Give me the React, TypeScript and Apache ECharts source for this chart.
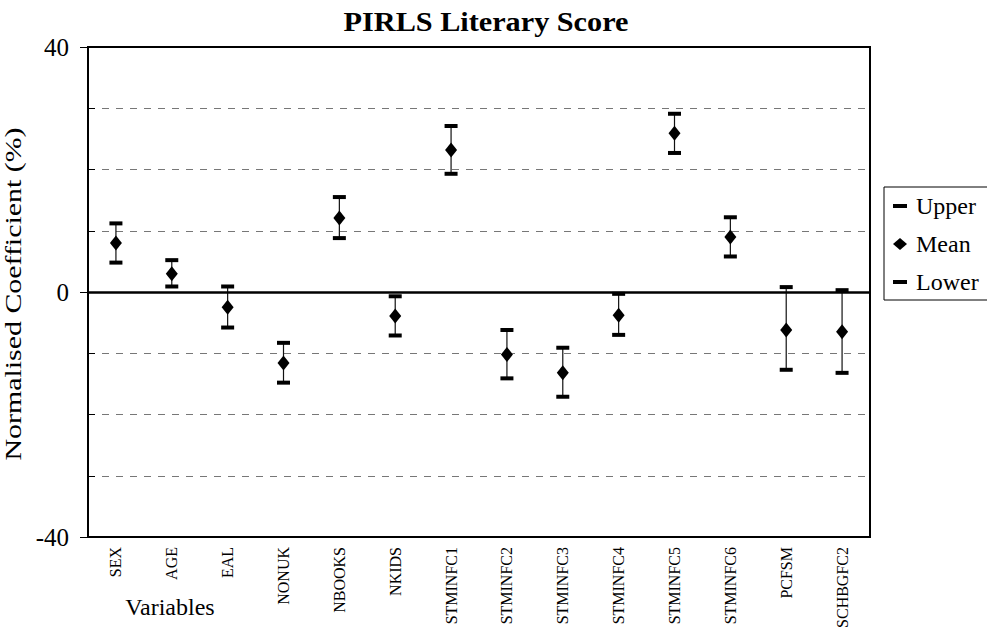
import React, { useEffect, useRef } from "react";
import * as echarts from "echarts";

const categories = ["SEX", "AGE", "EAL", "NONUK", "NBOOKS", "NKIDS", "STMINFC1", "STMINFC2", "STMINFC3", "STMINFC4", "STMINFC5", "STMINFC6", "PCFSM", "SCHBGFC2"];
const upperValues = [11.2, 5.2, 0.9, -8.3, 15.5, -0.7, 27.1, -6.2, -9.1, -0.3, 29.1, 12.2, 0.8, 0.3];
const meanValues = [8.0, 3.0, -2.5, -11.6, 12.1, -3.9, 23.2, -10.2, -13.2, -3.8, 25.9, 9.0, -6.2, -6.5];
const lowerValues = [4.8, 0.9, -5.8, -14.8, 8.8, -7.1, 19.3, -14.1, -17.1, -7.0, 22.7, 5.8, -12.7, -13.2];
const yMin = -40;
const yMax = 40;

const FONT = "'Liberation Serif', 'Times New Roman', serif";
const DASH_ICON = "path://M0,0H14V4H0Z";

export default function App() {
  const ref = useRef<HTMLDivElement>(null);
  useEffect(() => {
    document.body.style.margin = "0";
    document.body.style.overflow = "hidden";
    const chart = echarts.init(ref.current!, null, { renderer: "svg" });
    chart.setOption({
      animation: false,
      backgroundColor: "#ffffff",
      textStyle: { fontFamily: FONT, color: "#000" },
      grid: {
        left: 88,
        right: 117,
        top: 47,
        bottom: 95,
        show: true,
        borderColor: "#000",
        borderWidth: 2,
        backgroundColor: "transparent",
        z: 3,
      },
      legend: {
        orient: "vertical",
        left: 893,
        top: 194,
        itemWidth: 14,
        itemHeight: 12,
        itemGap: 14,
        padding: 0,
        textStyle: { fontFamily: FONT, fontSize: 24, color: "#000", padding: [0, 0, 0, 4] },
        data: [
          { name: "Upper", icon: DASH_ICON },
          { name: "Mean", icon: "diamond" },
          { name: "Lower", icon: DASH_ICON },
        ],
      },
      graphic: [
        {
          type: "rect",
          shape: { x: 884, y: 187, width: 120, height: 113 },
          style: { fill: "none", stroke: "#000", lineWidth: 1 },
          silent: true,
        },
        {
          type: "text",
          x: 486,
          y: 21,
          scaleX: 1.08,
          style: {
            text: "PIRLS Literary Score",
            font: "bold 28px 'Liberation Serif', serif",
            fill: "#000",
            textAlign: "center",
            textVerticalAlign: "middle",
          },
        },
        {
          type: "text",
          x: 13,
          y: 294,
          rotation: Math.PI / 2,
          scaleX: 1.3,
          style: {
            text: "Normalised Coefficient (%)",
            font: "23px 'Liberation Serif', serif",
            fill: "#000",
            textAlign: "center",
            textVerticalAlign: "middle",
          },
        },
        {
          type: "text",
          x: 170,
          y: 607,
          style: {
            text: "Variables",
            font: "24px 'Liberation Serif', serif",
            fill: "#000",
            textAlign: "center",
            textVerticalAlign: "middle",
          },
        },
      ],
      xAxis: {
        type: "category",
        data: categories,
        boundaryGap: true,
        axisLine: { show: false, onZero: false },
        axisTick: { show: false },
        splitLine: { show: false },
        axisLabel: {
          rotate: 90,
          interval: 0,
          margin: 10,
          fontFamily: FONT,
          fontSize: 16,
          color: "#000",
        },
      },
      yAxis: [
        {
          type: "value",
          min: yMin,
          max: yMax,
          interval: 10,
          position: "left",
          axisLine: { show: true, lineStyle: { color: "#000", width: 2 } },
          axisTick: { show: true, inside: true, length: 7, lineStyle: { color: "#000" } },
          axisLabel: { show: false },
          splitLine: { show: true, lineStyle: { color: "#777", type: [7, 7], width: 1 } },
        },
        {
          type: "value",
          min: yMin,
          max: yMax,
          interval: 40,
          position: "left",
          axisLine: { show: true, lineStyle: { color: "#000", width: 2 } },
          axisTick: { show: true, inside: false, length: 8, lineStyle: { color: "#000" } },
          axisLabel: { margin: 19, fontFamily: FONT, fontSize: 25, color: "#000" },
          splitLine: { show: false },
        },
      ],
      series: [
        {
          name: "whisker",
          type: "custom",
          silent: true,
          data: categories.map((_, i) => [i, lowerValues[i], upperValues[i]]),
          encode: { x: 0, y: [1, 2] },
          renderItem: (params: any, api: any) => {
            const p1 = api.coord([api.value(0), api.value(1)]);
            const p2 = api.coord([api.value(0), api.value(2)]);
            return {
              type: "line",
              shape: { x1: p1[0], y1: p1[1], x2: p2[0], y2: p2[1] },
              style: { stroke: "#111", lineWidth: 1.2 },
            };
          },
          markLine: {
            silent: true,
            symbol: "none",
            label: { show: false },
            lineStyle: { color: "#000", width: 2.5, type: "solid", opacity: 1 },
            data: [{ yAxis: 0 }],
          },
          z: 2,
        },
        {
          name: "Upper",
          type: "scatter",
          data: upperValues,
          symbol: "rect",
          symbolSize: [13, 4],
          itemStyle: { color: "#000", opacity: 1 },
          z: 3,
        },
        {
          name: "Mean",
          type: "scatter",
          data: meanValues,
          symbol: "diamond",
          symbolSize: [12, 15],
          itemStyle: { color: "#000", opacity: 1 },
          z: 4,
        },
        {
          name: "Lower",
          type: "scatter",
          data: lowerValues,
          symbol: "rect",
          symbolSize: [13, 4],
          itemStyle: { color: "#000", opacity: 1 },
          z: 3,
        },
      ],
    });
    return () => chart.dispose();
  }, []);
  return <div ref={ref} style={{ width: 987, height: 632, overflow: "hidden" }} />;
}
